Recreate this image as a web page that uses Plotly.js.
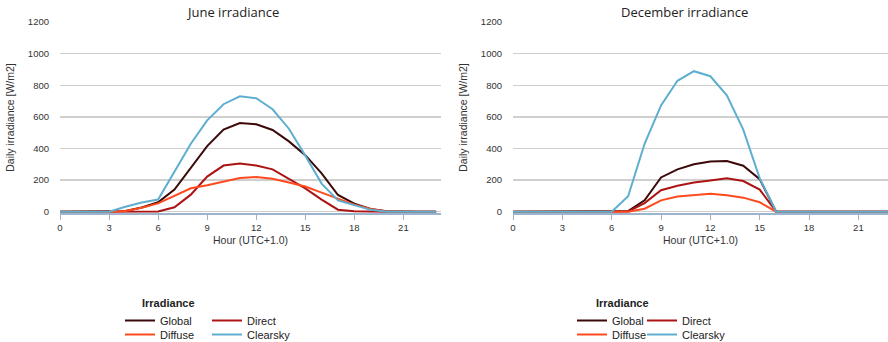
<!DOCTYPE html>
<html>
<head>
<meta charset="utf-8">
<script src="https://cdn.plot.ly/plotly-3.0.1.min.js"></script>
<style>
  html, body { margin: 0; padding: 0; background: #fff; }
  #chart { width: 888px; height: 342px; }
</style>
</head>
<body>
<div id="chart"></div>
<script>
// Hour of day (UTC+1.0)
const hours = [0,1,2,3,4,5,6,7,8,9,10,11,12,13,14,15,16,17,18,19,20,21,22,23];

// June hourly irradiance [W/m2]
const juneGlobal   = [0,0,0,0,4,27,60,140,280,415,520,561,553,517,445,358,243,106,51,18,3,0,0,0];
const juneDirect   = [0,0,0,0,0,0,2,28,108,222,292,305,293,268,210,148,77,13,3,0,0,0,0,0];
const juneDiffuse  = [0,0,0,0,5,25,53,100,148,168,190,213,219,209,185,160,121,82,45,17,2,0,0,0];
const juneClearsky = [0,0,0,0,32,58,77,255,430,578,680,730,718,648,525,355,178,72,42,12,0,0,0,0];

// December hourly irradiance [W/m2]
const decGlobal   = [0,0,0,0,0,0,0,4,72,217,268,300,317,321,291,206,0,0,0,0,0,0,0,0];
const decDirect   = [0,0,0,0,0,0,0,2,55,136,164,185,198,211,194,140,0,0,0,0,0,0,0,0];
const decDiffuse  = [0,0,0,0,0,0,0,0,19,72,96,106,113,104,89,60,0,0,0,0,0,0,0,0];
const decClearsky = [0,0,0,0,0,0,0,98,430,672,828,889,857,736,519,211,0,0,0,0,0,0,0,0];

const seriesColors = {
  Global: '#3b0909',
  Direct: '#ac1414',
  Diffuse: '#ff4a20',
  Clearsky: '#5eaed0'
};
const xTicks = [0,3,6,9,12,15,18,21];
const yTicks = [0,200,400,600,800,1000,1200];

function line(name, y, xa, ya, legendId) {
  return {
    type: 'scatter', mode: 'lines', name: name,
    x: hours, y: y, xaxis: xa, yaxis: ya,
    legend: legendId,
    line: { color: seriesColors[name], width: 2 },
    hoverinfo: 'x+y+name'
  };
}

// Global, Direct, Diffuse, Clearsky: Clearsky ends up on top along the zero line.
// Each entry gets its own legend box so the 2x2 key can be laid out freely.
const traces = [
  line('Global', juneGlobal, 'x', 'y', 'legend'),
  line('Direct', juneDirect, 'x', 'y', 'legend2'),
  line('Diffuse', juneDiffuse, 'x', 'y', 'legend3'),
  line('Clearsky', juneClearsky, 'x', 'y', 'legend4'),
  line('Global', decGlobal, 'x2', 'y2', 'legend5'),
  line('Direct', decDirect, 'x2', 'y2', 'legend6'),
  line('Diffuse', decDiffuse, 'x2', 'y2', 'legend7'),
  line('Clearsky', decClearsky, 'x2', 'y2', 'legend8')
];

const tickFont = { family: 'Liberation Sans, Arial, sans-serif', size: 9.5, color: '#333' };
const titleFont = { family: 'Liberation Sans, Arial, sans-serif', size: 10.5, color: '#333' };

function xAxis(domain, maxX) {
  return {
    domain: domain, range: [0, maxX],
    tickvals: xTicks, ticktext: xTicks.map(String),
    ticks: 'outside', ticklen: 5, tickwidth: 1, tickcolor: '#9db5cc',
    showline: true, linecolor: '#9db5cc', linewidth: 1.5,
    showgrid: false, zeroline: false,
    tickfont: tickFont,
    title: { text: 'Hour (UTC+1.0)', font: titleFont, standoff: 4 }
  };
}
function yAxis(anchor) {
  return {
    anchor: anchor, domain: [0, 1], range: [-8, 1200],
    tickvals: yTicks, ticktext: yTicks.map(String),
    ticks: '', showline: false, zeroline: false,
    showgrid: true, gridcolor: '#cfcfcf', gridwidth: 1.5,
    ticklabelstandoff: 10,
    tickfont: tickFont,
    title: { text: 'Daily irradiance [W/m2]', font: titleFont, standoff: 11 }
  };
}

const legendFont = { family: 'Liberation Sans, Arial, sans-serif', size: 11, color: '#222' };
// legend box whose entry text starts 40px right of xPx, row top at yPx
function legendAt(xPx, yPx) {
  return {
    orientation: 'h', xref: 'container', yref: 'container',
    x: xPx / 888, y: 1 - yPx / 342, xanchor: 'left', yanchor: 'top',
    itemwidth: 30, font: legendFont,
    bgcolor: 'rgba(0,0,0,0)',
    itemclick: false, itemdoubleclick: false
  };
}

const layout = {
  width: 888, height: 342,
  margin: { l: 0, r: 0, t: 22, b: 129 },
  paper_bgcolor: '#fff', plot_bgcolor: '#fff',
  showlegend: true,
  xaxis: xAxis([60/888, 441/888], 23.3),
  yaxis: yAxis('x'),
  xaxis2: Object.assign(xAxis([513/888, 1], 22.8), { anchor: 'y2' }),
  yaxis2: yAxis('x2'),
  legend:  legendAt(120, 306),
  legend2: legendAt(207, 306),
  legend3: legendAt(120, 320),
  legend4: legendAt(207, 320),
  legend5: legendAt(572, 306),
  legend6: legendAt(642, 306),
  legend7: legendAt(572, 320),
  legend8: legendAt(642, 320),
  annotations: [
    { text: 'June irradiance', xref: 'paper', yref: 'paper', x: 232/888, y: 1.052,
      xanchor: 'center', yanchor: 'middle', showarrow: false,
      font: { family: 'Open Sans, sans-serif', size: 13, color: '#222' } },
    { text: 'December irradiance', xref: 'paper', yref: 'paper', x: 684/888, y: 1.052,
      xanchor: 'center', yanchor: 'middle', showarrow: false,
      font: { family: 'Open Sans, sans-serif', size: 13, color: '#222' } },
    { text: '<b>Irradiance</b>', xref: 'paper', yref: 'paper', x: 140/888, y: (213 - 303)/191,
      xanchor: 'left', yanchor: 'middle', showarrow: false, font: legendFont },
    { text: '<b>Irradiance</b>', xref: 'paper', yref: 'paper', x: 594/888, y: (213 - 303)/191,
      xanchor: 'left', yanchor: 'middle', showarrow: false, font: legendFont }
  ]
};

Plotly.newPlot('chart', traces, layout, { displayModeBar: false, staticPlot: true });
</script>
</body>
</html>
